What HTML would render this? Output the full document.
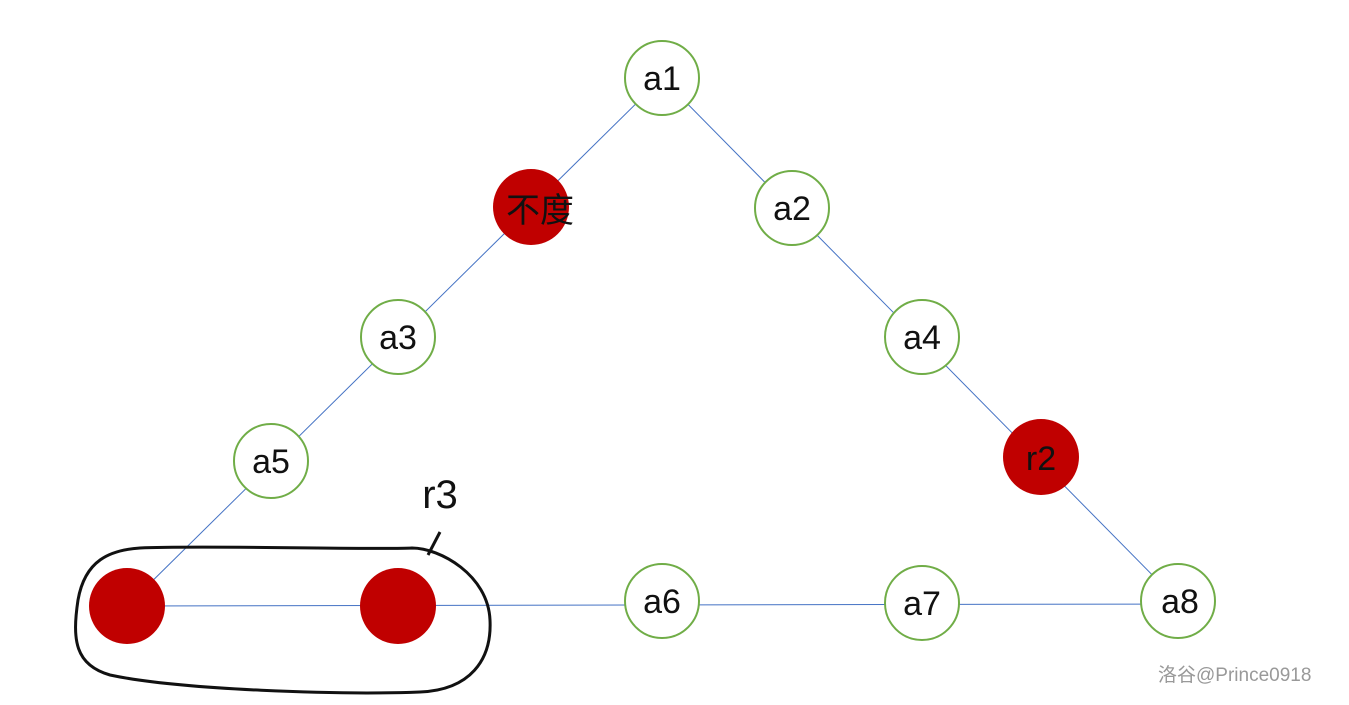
<!DOCTYPE html>
<html><head><meta charset="utf-8"><style>
html,body{margin:0;padding:0;background:#fff;width:1349px;height:705px;overflow:hidden}
text{font-family:"Liberation Sans","Noto Sans CJK SC",sans-serif;fill:#111}
</style></head><body>
<svg width="1349" height="705" viewBox="0 0 1349 705" xmlns="http://www.w3.org/2000/svg">
<g stroke="#4472c4" stroke-width="1" fill="none">
<line x1="662" y1="78" x2="127" y2="606"/>
<line x1="662" y1="78" x2="1178" y2="601"/>
<line x1="127" y1="606" x2="1178" y2="604"/>
</g>
<g fill="#fff" stroke="#70ad47" stroke-width="2">
<circle cx="662" cy="78" r="37"/>
<circle cx="792" cy="208" r="37"/>
<circle cx="398" cy="337" r="37"/>
<circle cx="922" cy="337" r="37"/>
<circle cx="271" cy="461" r="37"/>
<circle cx="662" cy="601" r="37"/>
<circle cx="922" cy="603" r="37"/>
<circle cx="1178" cy="601" r="37"/>
</g>
<g fill="#c00000">
<circle cx="531" cy="207" r="38"/>
<circle cx="1041" cy="457" r="38"/>
<circle cx="127" cy="606" r="38"/>
<circle cx="398" cy="606" r="38"/>
</g>
<g font-size="34" text-anchor="middle">
<text x="662" y="90">a1</text>
<text x="792" y="220">a2</text>
<text x="398" y="349">a3</text>
<text x="922" y="349">a4</text>
<text x="271" y="473">a5</text>
<text x="662" y="613">a6</text>
<text x="922" y="615">a7</text>
<text x="1180" y="613">a8</text>
<text x="1041" y="470">r2</text>
<text x="440" y="508" font-size="40">r3</text>
<text x="540" y="222" font-size="34">不度</text>
</g>
<path d="M140 548 C200 545 380 550 412 548 C440 548 488 575 490 620 C492 660 470 690 420 692 C340 695 180 690 110 675 C75 665 72 640 78 600 C85 560 110 550 140 548 Z" fill="none" stroke="#111" stroke-width="3"/>
<line x1="428" y1="555" x2="440" y2="532" stroke="#111" stroke-width="3"/>
<text x="1158" y="681" font-size="19" style="fill:#999">洛谷@Prince0918</text>
</svg>
</body></html>
